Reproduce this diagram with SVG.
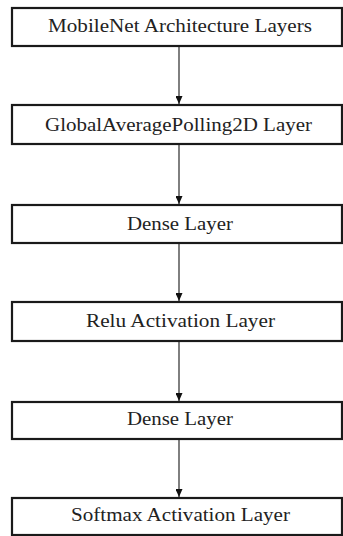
<svg xmlns="http://www.w3.org/2000/svg" width="343" height="536" viewBox="0 0 343 536">
  <style>
    .box { fill: #ffffff; stroke: #1a1a1a; stroke-width: 2.2; }
    .lbl { fill: #222222; text-anchor: middle; }
    .edge { stroke: #2a2a2a; stroke-width: 1.2; fill: none; marker-end: url(#arrow); }
  </style>
  <defs>
    <marker id="arrow" viewBox="0 0 8 7" refX="8" refY="3.5" markerWidth="8" markerHeight="7" markerUnits="userSpaceOnUse" orient="auto">
      <path d="M0,0 L8,3.5 L0,7 Z" fill="#111111"/>
    </marker>
  </defs>
  <rect width="343" height="536" fill="#ffffff"/>

  <g id="connectors">
    <line class="edge" x1="179" y1="47" x2="179" y2="104"/>
    <line class="edge" x1="179" y1="145" x2="179" y2="204"/>
    <line class="edge" x1="179" y1="244" x2="179" y2="301"/>
    <line class="edge" x1="179" y1="342" x2="179" y2="401"/>
    <line class="edge" x1="179" y1="440" x2="179" y2="497"/>
  </g>

  <g font-family="'Liberation Serif', Tinos, 'Times New Roman', serif" font-size="18.5">
    <g id="mobilenet">
      <rect class="box" x="12" y="8" width="330" height="38"/>
      <text class="lbl" x="180" y="31.5" textLength="264" lengthAdjust="spacingAndGlyphs">MobileNet Architecture Layers</text>
    </g>
    <g id="global-average-pooling">
      <rect class="box" x="12" y="105" width="330" height="39"/>
      <text class="lbl" x="178.5" y="130.5" textLength="267" lengthAdjust="spacingAndGlyphs">GlobalAveragePolling2D Layer</text>
    </g>
    <g id="dense-1">
      <rect class="box" x="12" y="205" width="330" height="38"/>
      <text class="lbl" x="180" y="229.5" textLength="106" lengthAdjust="spacingAndGlyphs">Dense Layer</text>
    </g>
    <g id="relu">
      <rect class="box" x="12" y="302" width="330" height="39"/>
      <text class="lbl" x="180.5" y="327" textLength="189" lengthAdjust="spacingAndGlyphs">Relu Activation Layer</text>
    </g>
    <g id="dense-2">
      <rect class="box" x="12" y="402" width="330" height="37"/>
      <text class="lbl" x="180" y="424.5" textLength="106" lengthAdjust="spacingAndGlyphs">Dense Layer</text>
    </g>
    <g id="softmax">
      <rect class="box" x="12" y="498" width="330" height="37"/>
      <text class="lbl" x="180.5" y="521" textLength="219" lengthAdjust="spacingAndGlyphs">Softmax Activation Layer</text>
    </g>
  </g>
</svg>
